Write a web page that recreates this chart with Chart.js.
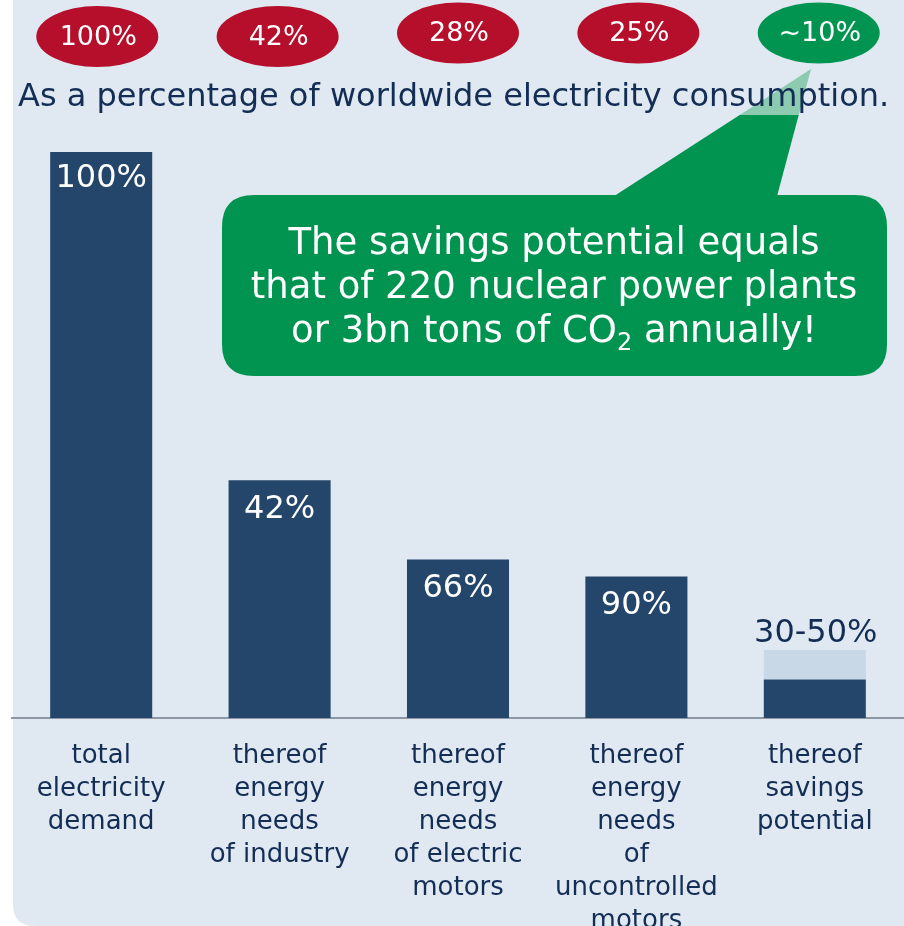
<!DOCTYPE html>
<html><head><meta charset="utf-8">
<script src="https://cdn.jsdelivr.net/npm/chart.js@4/dist/chart.umd.min.js"></script>
<style>html,body{margin:0;padding:0;background:#fff;}#wrap{width:904px;height:926px;}</style>
</head><body><div id="wrap"><canvas id="c" width="904" height="926"></canvas></div>
<script>
// ---- data ----
const categories = [
  ["total","electricity","demand"],
  ["thereof","energy","needs","of industry"],
  ["thereof","energy","needs","of electric","motors"],
  ["thereof","energy","needs","of","uncontrolled","motors"],
  ["thereof","savings","potential"]
];
const shareOfWorld = [100, 42, 28, 25, 6.8];     // dark bars (% of worldwide consumption)
const savingsUpper = [0, 0, 0, 0, 5.2];          // light extension of savings range
const barLabels = ["100%", "42%", "66%", "90%", "30-50%"];
const ovalLabels = ["100%", "42%", "28%", "25%", "~10%"];
const subtitle = "As a percentage of worldwide electricity consumption.";
const calloutLines = ["The savings potential equals", "that of 220 nuclear power plants"];
const calloutLast = ["or 3bn tons of CO", "2", " annually!"];

const NAVY = "#24466b", LIGHT = "#c8d8e6", BG = "#e0e9f1", TXT = "#132d55";
const RED = "#b50f2b", GREEN = "#009450", LGREEN = "#8ccbb0";
const FONT = "'DejaVu Sans', Verdana, sans-serif";

function rrect(ctx, x, y, w, h, r) {
  ctx.beginPath();
  ctx.moveTo(x + r, y);
  ctx.lineTo(x + w - r, y); ctx.quadraticCurveTo(x + w, y, x + w, y + r);
  ctx.lineTo(x + w, y + h - r); ctx.quadraticCurveTo(x + w, y + h, x + w - r, y + h);
  ctx.lineTo(x + r, y + h); ctx.quadraticCurveTo(x, y + h, x, y + h - r);
  ctx.lineTo(x, y + r); ctx.quadraticCurveTo(x, y, x + r, y);
  ctx.closePath();
}

const deco = {
  id: "deco",
  beforeDraw(chart) {
    const ctx = chart.ctx;
    ctx.save();
    ctx.fillStyle = "#fff"; ctx.fillRect(0, 0, chart.width, chart.height);
    ctx.fillStyle = BG;
    rrect(ctx, 13, -40, 930, 966, 22); ctx.fill();
    ctx.restore();
  },
  afterDraw(chart) {
    const ctx = chart.ctx;
    const xs = chart.scales.x;
    ctx.save();
    // ovals
    const mid = xs.getPixelForValue(2);
    const ovalY = [36.5, 36.5, 33, 33, 33];
    ovalLabels.forEach((t, i) => {
      const px = xs.getPixelForValue(i);
      const cx = mid + (px - mid) * 1.011;
      ctx.fillStyle = i === 4 ? GREEN : RED;
      ctx.beginPath(); ctx.ellipse(cx, ovalY[i], 61, 30.5, 0, 0, Math.PI * 2); ctx.fill();
      ctx.fillStyle = "#fff"; ctx.font = "27px " + FONT;
      ctx.textAlign = "center"; ctx.textBaseline = "middle";
      ctx.fillText(t, cx + 1, ovalY[i] + 1);
    });
    // pointer triangle
    const tip = [811, 69], bl = [608, 200], br = [776, 200];
    ctx.save();
    ctx.beginPath(); ctx.moveTo(...tip); ctx.lineTo(...br); ctx.lineTo(...bl); ctx.closePath();
    ctx.clip();
    ctx.fillStyle = LGREEN; ctx.fillRect(590, 60, 240, 55);
    ctx.fillStyle = GREEN; ctx.fillRect(590, 115, 240, 90);
    ctx.restore();
    // subtitle
    ctx.fillStyle = TXT; ctx.font = "32px " + FONT;
    ctx.textAlign = "left"; ctx.textBaseline = "middle";
    ctx.fillText(subtitle, 18, 98);
    // callout box
    ctx.fillStyle = GREEN;
    rrect(ctx, 222, 195, 665, 181, 32); ctx.fill();
    ctx.fillStyle = "#fff"; ctx.font = "37px " + FONT;
    ctx.textAlign = "center"; ctx.textBaseline = "middle";
    const ccx = 554;
    ctx.fillText(calloutLines[0], ccx, 244);
    ctx.fillText(calloutLines[1], ccx, 288);
    const w1 = ctx.measureText(calloutLast[0]).width;
    const w3 = ctx.measureText(calloutLast[2]).width;
    ctx.font = "24px " + FONT;
    const w2 = ctx.measureText(calloutLast[1]).width;
    let sx = ccx - (w1 + w2 + w3) / 2;
    ctx.textAlign = "left";
    ctx.font = "37px " + FONT; ctx.fillText(calloutLast[0], sx, 332);
    ctx.font = "24px " + FONT; ctx.fillText(calloutLast[1], sx + w1, 344);
    ctx.font = "37px " + FONT; ctx.fillText(calloutLast[2], sx + w1 + w2, 332);
    // bar value labels
    const m0 = chart.getDatasetMeta(0), m1 = chart.getDatasetMeta(1);
    ctx.font = "32px " + FONT; ctx.textAlign = "center"; ctx.textBaseline = "middle";
    barLabels.forEach((t, i) => {
      const b = m0.data[i];
      if (i < 4) {
        ctx.fillStyle = "#fff";
        ctx.fillText(t, b.x, b.y + (i === 0 ? 27 : 29));
      } else {
        const top = m1.data[i].y;
        ctx.fillStyle = TXT;
        ctx.fillText(t, b.x + 1, top - 16);
      }
    });
    ctx.restore();
  }
};

new Chart(document.getElementById("c"), {
  type: "bar",
  data: {
    labels: categories,
    datasets: [
      { data: shareOfWorld, backgroundColor: NAVY, borderWidth: 0 },
      { data: savingsUpper, backgroundColor: LIGHT, borderWidth: 0 }
    ]
  },
  options: {
    responsive: false, animation: false, devicePixelRatio: 1,
    layout: { padding: { top: 152, left: 12, right: 0, bottom: 0 } },
    datasets: { bar: { barPercentage: 1, categoryPercentage: 0.572 } },
    plugins: { legend: { display: false }, tooltip: { enabled: false } },
    scales: {
      y: { display: false, stacked: true, min: 0, max: 100 },
      x: {
        stacked: true,
        grid: { display: false, drawTicks: false },
        border: { display: true, color: "#8c97a3", width: 2 },
        ticks: {
          color: TXT, padding: 22, maxRotation: 0, autoSkip: false,
          font: { family: FONT, size: 26, lineHeight: 33 / 26 }
        },
        afterFit(scale) { scale.height = 208; }
      }
    }
  },
  plugins: [deco]
});
</script>
</body></html>
